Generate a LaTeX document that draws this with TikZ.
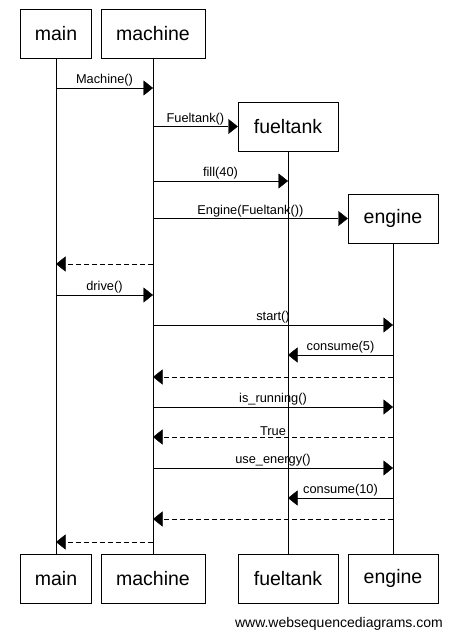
\documentclass[tikz,border=0pt]{standalone}
\usepackage{fontspec}
\setmainfont{Liberation Sans}
\usetikzlibrary{arrows.meta}

\tikzset{
	actor/.style={draw, fill=white, minimum height=49pt, inner sep=0pt, font=\fontsize{19.5}{23}\selectfont},
	msg/.style={-{Triangle[length=9.5pt,width=15pt]}},
	reply/.style={msg, dash pattern=on 5pt off 3pt},
	lbl/.style={anchor=south, inner sep=1.5pt, font=\fontsize{12.8}{15}\selectfont},
}

\begin{document}
\begin{tikzpicture}[x=1pt,y=1pt,yscale=-1,xscale=1]
			\useasboundingbox (0,0) rectangle (455,636);

			% Actors (top)
			\node[actor, minimum width=71pt] (main) at (56,33.5) {main};
			\node[actor, minimum width=104pt] (machine) at (153,33.5) {machine};
			\node[actor, minimum width=100pt] (fueltank) at (288,126.5) {fueltank};
			\node[actor, minimum width=90pt] (engine) at (393,218.5) {engine};
			% Actors (bottom)
			\node[actor, minimum width=71pt] (mainB) at (56,578.5) {main};
			\node[actor, minimum width=104pt] (machineB) at (153,578.5) {machine};
			\node[actor, minimum width=100pt] (fueltankB) at (288,578.5) {fueltank};
			\node[actor, minimum width=90pt] (engineB) at (393,578.5) {engine};

			% Lifelines
			\draw (main.south) -- (mainB.north);
			\draw (machine.south) -- (machineB.north);
			\draw (fueltank.south) -- (fueltankB.north);
			\draw (engine.south) -- (engineB.north);

			% Messages
			\draw[msg] (main |- 0,88) -- node[lbl] {Machine()} (machine |- 0,88);
			\draw[msg] (machine |- fueltank.west) -- node[lbl] {Fueltank()} (fueltank.west);
			\draw[msg] (machine |- 0,181) -- node[lbl] {fill(40)} (fueltank |- 0,181);
			\draw[msg] (machine |- engine.west) -- node[lbl] {Engine(Fueltank())} (engine.west);
			\draw[reply] (machine |- 0,264) -- (main |- 0,264);
			\draw[msg] (main |- 0,295) -- node[lbl] {drive()} (machine |- 0,295);
			\draw[msg] (machine |- 0,325) -- node[lbl] {start()} (engine |- 0,325);
			\draw[msg] (engine |- 0,355) -- node[lbl] {consume(5)} (fueltank |- 0,355);
			\draw[reply] (engine |- 0,377) -- (machine |- 0,377);
			\draw[msg] (machine |- 0,407) -- node[lbl] {is\_running()} (engine |- 0,407);
			\draw[reply] (engine |- 0,437) -- node[lbl] {True} (machine |- 0,437);
			\draw[msg] (machine |- 0,468) -- node[lbl] {use\_energy()} (engine |- 0,468);
			\draw[msg] (engine |- 0,498) -- node[lbl] {consume(10)} (fueltank |- 0,498);
			\draw[reply] (engine |- 0,519) -- (machine |- 0,519);
			\draw[reply] (machine |- 0,542) -- (main |- 0,542);

			% Text Node
			\node[anchor=base east, inner sep=0pt, font=\fontsize{14}{16}\selectfont] (credit) at (443,627) {www.websequencediagrams.com};

		\end{tikzpicture}
\end{document}
